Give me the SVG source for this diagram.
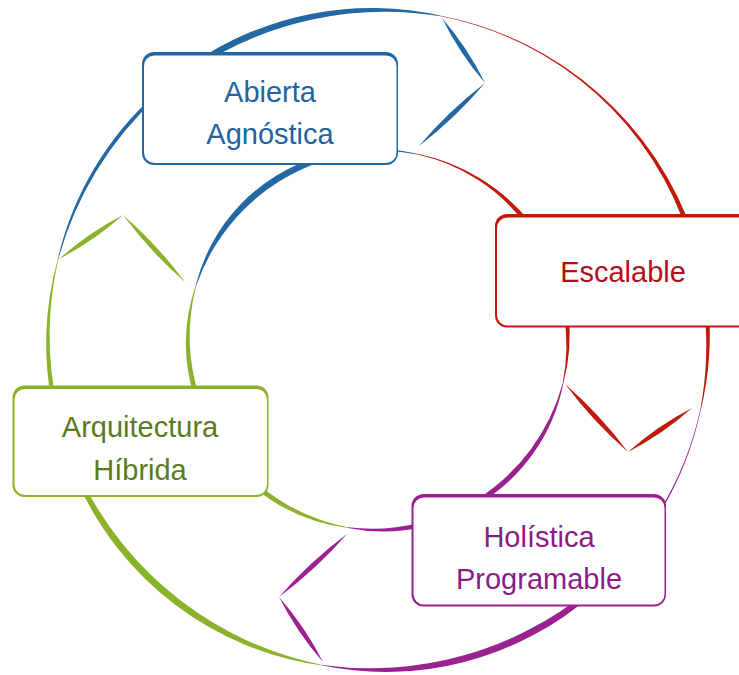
<svg xmlns="http://www.w3.org/2000/svg" width="739" height="675" viewBox="0 0 739 675">
<style>
.b{fill:#2368a3}.r{fill:#c01a0c}.p{fill:#9a2290}.g{fill:#8cb12b}
.w{fill:#ffffff}
text{font-family:"Liberation Sans",Arial,sans-serif;font-size:29px;text-anchor:middle}
.tb{fill:#2462a0}.tr{fill:#b0101a}.tp{fill:#8c1a88}.tg{fill:#5a7b1b}
</style>
<rect width="739" height="675" fill="#ffffff"/>
<g id="connectors">
<!-- outer ring -->
<path class="b" d="M57.79,258.97 A318,318 0 0 1 156.02,93.46 L158.36,96.06 A342,342 0 0 0 58.37,259.12 Z"/>
<path class="b" d="M191.93,64.14 A315,315 0 0 1 442.15,15.99 L442.04,16.58 A345,345 0 0 0 195.0,68.69 Z"/>
<path class="r" d="M442.15,15.99 A334,334 0 0 1 694.23,237.25 L689.47,238.80 A326,326 0 0 0 442.04,16.58 Z"/>
<path class="r" d="M708.43,305.27 A318,318 0 0 1 700.84,409.80 L700.25,409.67 A342,342 0 0 0 703.95,305.74 Z"/>
<path class="p" d="M700.84,409.80 A330.5,330.5 0 0 1 655.39,520.14 L654.13,519.32 A329.5,329.5 0 0 0 700.25,409.67 Z"/>
<path class="p" d="M591.89,594.90 A315,315 0 0 1 322.35,665.58 L322.45,664.99 A345,345 0 0 0 588.35,590.69 Z"/>
<path class="g" d="M322.35,665.58 A315,315 0 0 1 76.88,480.42 L80.96,478.51 A345,345 0 0 0 322.45,664.99 Z"/>
<path class="g" d="M53.01,409.08 A318,318 0 0 1 57.79,258.97 L58.37,259.12 A342,342 0 0 0 57.41,408.14 Z"/>
<!-- inner ring -->
<path class="b" d="M195.73,285.32 A180,180 0 0 1 318.44,156.68 L320.14,161.91 A200,200 0 0 0 196.30,285.49 Z"/>
<path class="b" d="M384.67,149.12 A190.65,190.65 0 0 1 417.57,153.86 L417.44,154.45 A189.35,189.35 0 0 0 384.60,151.12 Z"/>
<path class="r" d="M417.57,153.86 A196,196 0 0 1 529.69,221.49 L525.75,224.56 A184,184 0 0 0 417.44,154.45 Z"/>
<path class="r" d="M568.38,313.24 A183,183 0 0 1 563.27,383.46 L562.69,383.32 A197,197 0 0 0 563.92,313.87 Z"/>
<path class="p" d="M563.27,383.46 A181,181 0 0 1 480.01,503.25 L477.36,499.01 A199,199 0 0 0 562.69,383.32 Z"/>
<path class="p" d="M421.30,527.57 A183,183 0 0 1 347.90,527.90 L348.00,527.31 A197,197 0 0 0 420.18,522.69 Z"/>
<path class="g" d="M347.90,527.90 A181,181 0 0 1 254.26,487.46 L257.48,483.63 A199,199 0 0 0 348.00,527.31 Z"/>
<path class="g" d="M194.92,399.49 A181,181 0 0 1 195.73,285.32 L196.30,285.49 A199,199 0 0 0 199.68,397.94 Z"/>
<!-- chevrons -->
<path class="b" d="M442,18 Q467.67,47.74 485,83 Q459.33,53.26 442,18 Z M485,83 Q455.46,118.12 419,146 Q448.55,110.88 485,83 Z"/>
<path class="r" d="M565,384 Q600.17,414.6 628,452 Q592.83,421.4 565,384 Z M628,452 Q662.83,434.12 692,408 Q657.17,425.88 628,452 Z"/>
<path class="p" d="M347,534 Q316.4,569.17 279,597 Q309.6,561.83 347,534 Z M279,597 Q305.14,626.7 323,662 Q296.86,632.3 279,597 Z"/>
<path class="g" d="M59,259 Q93.83,241.12 123,215 Q88.17,232.88 59,259 Z M123,215 Q157.67,245.1 185,282 Q150.33,251.9 123,215 Z"/>
</g>
<g id="node-abierta">
<rect class="b" x="142" y="52" width="256" height="113" rx="12"/>
<rect class="w" x="144" y="55.5" width="252.5" height="107.5" rx="10.5"/>
<text class="tb" x="270" y="101.5">Abierta</text>
<text class="tb" x="270" y="144.3">Agnóstica</text>
</g>
<g id="node-escalable">
<rect class="r" x="495" y="214" width="270" height="113.5" rx="12"/>
<rect class="w" x="497" y="217.5" width="266" height="108" rx="10.5"/>
<text class="tr" x="623" y="282.3">Escalable</text>
</g>
<g id="node-holistica">
<rect class="p" x="411.5" y="494" width="254.5" height="112.5" rx="12"/>
<rect class="w" x="413.5" y="497.5" width="251" height="107" rx="10.5"/>
<text class="tp" x="539" y="547.3">Holística</text>
<text class="tp" x="539" y="589.3">Programable</text>
</g>
<g id="node-arquitectura">
<rect class="g" x="12.5" y="385.5" width="256" height="111.5" rx="12"/>
<rect class="w" x="14.5" y="389" width="252.5" height="106" rx="10.5"/>
<text class="tg" x="140" y="436.7">Arquitectura</text>
<text class="tg" x="140" y="479.7">Híbrida</text>
</g>
</svg>
